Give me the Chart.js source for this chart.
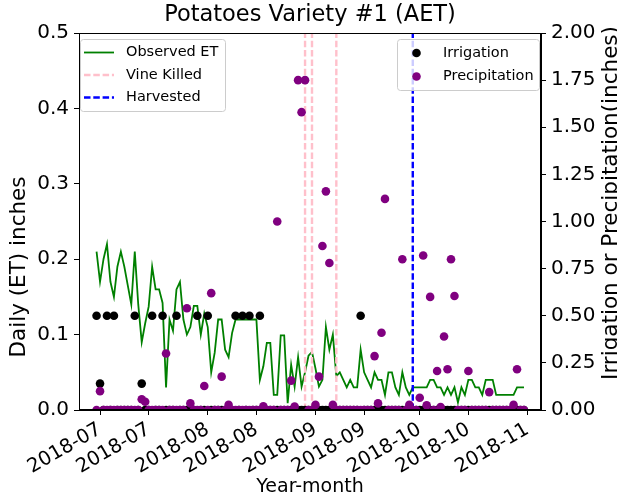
<!DOCTYPE html>
<html><head><meta charset="utf-8">
<script src="https://cdn.jsdelivr.net/npm/chart.js@4.4.0/dist/chart.umd.min.js"></script>
<style>html,body{margin:0;padding:0;background:#fff;} #wrap{width:617px;height:498px;position:relative;}</style>
</head><body><div id="wrap"><canvas id="c" width="617" height="498"></canvas></div>
<script>
// Days are counted from 2018-07-01 (day 0); the series start on 2018-06-30.
const firstDay = -1;
const etValues = [
  0.21, 0.17, 0.20, 0.22, 0.17, 0.15, 0.19, 0.21, 0.19, 0.165,
  0.14, 0.21, 0.14, 0.09, 0.115, 0.137, 0.19, 0.16, 0.16, 0.142,
  0.03, 0.12, 0.105, 0.16, 0.17, 0.12, 0.10, 0.11, 0.138, 0.138,
  0.10, 0.128, 0.11, 0.05, 0.076, 0.12, 0.12, 0.08, 0.07, 0.102,
  0.12, 0.12, 0.12, 0.12, 0.12, 0.12, 0.12, 0.04, 0.058, 0.089,
  0.089, 0.02, 0.02, 0.099, 0.099, 0.009, 0.06, 0.031, 0.07, 0.031,
  0.05, 0.072, 0.077, 0.055, 0.031, 0.04, 0.11, 0.08, 0.10, 0.045,
  0.05, 0.04, 0.03, 0.04, 0.03, 0.03, 0.08, 0.05, 0.04, 0.03,
  0.05, 0.04, 0.04, 0.02, 0.05, 0.05, 0.03, 0.02, 0.05, 0.03,
  0.02, 0.03, 0.03, 0.03, 0.03, 0.03, 0.04, 0.04, 0.03, 0.03,
  0.02, 0.03, 0.02, 0.03, 0.01, 0.03, 0.02, 0.04, 0.04, 0.03,
  0.03, 0.02, 0.04, 0.04, 0.04, 0.02, 0.02, 0.02, 0.02, 0.02,
  0.02, 0.03, 0.03, 0.03
];
const irrigationValues = [
  0.5, 0.14, 0, 0.5, 0, 0.5, 0, 0, 0, 0,
  0, 0.5, 0, 0.14, 0, 0, 0.5, 0, 0, 0.5,
  0, 0, 0, 0.5, 0, 0, 0, 0, 0, 0.5,
  0, 0, 0.5, 0, 0, 0, 0, 0, 0, 0,
  0.5, 0, 0.5, 0, 0.5, 0, 0, 0.5, 0, 0,
  0, 0, 0, 0, 0, 0, 0, 0, 0, 0,
  0, 0, 0, 0, 0, 0, 0, 0, 0, 0,
  0, 0, 0, 0, 0, 0, 0.5, 0, 0, 0,
  0, 0, 0, 0, 0, 0, 0, 0, 0, 0,
  0, 0, 0, 0, 0, 0, 0, 0, 0, 0,
  0, 0, 0, 0, 0, 0, 0, 0, 0, 0,
  0, 0, 0, 0, 0, 0, 0, 0, 0, 0,
  0, 0, 0, 0
];
const precipitationValues = [
  0, 0.10, 0, 0, 0, 0, 0, 0, 0, 0,
  0, 0, 0, 0.057, 0.044, 0, 0, 0, 0, 0,
  0.30, 0, 0, 0, 0, 0, 0.54, 0.035, 0, 0,
  0, 0.127, 0, 0.62, 0, 0, 0.177, 0, 0.027, 0,
  0, 0, 0, 0, 0, 0, 0, 0, 0.02, 0,
  0, 0, 1.00, 0, 0, 0, 0.156, 0.018, 1.75, 1.58,
  1.75, 0, 0, 0.027, 0.177, 0.87, 1.16, 0.78, 0.027, 0,
  0, 0, 0, 0, 0, 0, 0, 0, 0, 0,
  0.286, 0.035, 0.41, 1.12, 0, 0, 0, 0, 0.80, 0,
  0.027, 0, 0, 0.065, 0.82, 0.025, 0.60, 0, 0.207, 0.016,
  0.39, 0.216, 0.80, 0.605, 0, 0, 0, 0.207, 0, 0,
  0, 0, 0, 0.095, 0, 0, 0, 0, 0, 0,
  0.027, 0.216, 0, 0
];
const vineKilledDays = [59, 61, 68];
const harvestedDays = [90];
const xTickDays = [0, 14, 31, 45, 62, 76, 92, 106, 123];
const xTickLabels = ['2018-07','2018-07','2018-08','2018-08','2018-09','2018-09','2018-10','2018-10','2018-11'];
const leftTicks = [0, 0.1, 0.2, 0.3, 0.4, 0.5];
const rightTicks = [0, 0.25, 0.5, 0.75, 1.0, 1.25, 1.5, 1.75, 2.0];

const days = etValues.map((_, i) => firstDay + i);
const FONT = 'DejaVu Sans';
const toPts = vals => vals.map((v, i) => ({x: days[i], y: v}));

const vlineSet = (d, color, idx) => ({
  type: 'line', data: [{x: d, y: 0}, {x: d, y: 0.5}], yAxisID: 'y',
  borderColor: color, borderWidth: 2.4, borderDash: [6.5, 2.8], pointRadius: 0, order: idx, clip: 0
});

const datasets = [
  {type: 'scatter', label: 'Precipitation', data: toPts(precipitationValues), yAxisID: 'y2',
   backgroundColor: '#800080', borderWidth: 0, pointRadius: 4.3, pointHoverRadius: 4.3, order: 0, clip: 0},
  {type: 'scatter', label: 'Irrigation', data: toPts(irrigationValues), yAxisID: 'y2',
   backgroundColor: '#000000', borderWidth: 0, pointRadius: 4.3, pointHoverRadius: 4.3, order: 1, clip: 0},
  ...harvestedDays.map(d => vlineSet(d, '#0000ff', 2)),
  ...vineKilledDays.map(d => vlineSet(d, '#ffc0cb', 3)),
  {type: 'line', label: 'Observed ET', data: toPts(etValues), yAxisID: 'y',
   borderColor: '#008000', borderWidth: 1.8, pointRadius: 0, tension: 0, order: 5, clip: 0}
];

const axisCommon = {
  grid: {drawOnChartArea: false, drawTicks: true, tickLength: 5, color: '#000', lineWidth: 1},
  border: {display: true, color: '#000', width: 1}
};

const decor = {
  id: 'decor',
  afterDraw(chart) {
    const ctx = chart.ctx, a = chart.chartArea;
    ctx.save();
    // axes box
    ctx.strokeStyle = '#000'; ctx.lineWidth = 1;
    ctx.strokeRect(Math.round(a.left) + 0.5, Math.round(a.top) + 0.5, Math.round(a.right - a.left) - 1, Math.round(a.bottom - a.top) - 1);
    // title
    ctx.fillStyle = '#000';
    ctx.font = '22.5px "' + FONT + '"';
    ctx.textAlign = 'center'; ctx.textBaseline = 'middle';
    ctx.fillText('Potatoes Variety #1 (AET)', (a.left + a.right) / 2, 15);
    // left axis label
    ctx.save();
    ctx.translate(19, 267);
    ctx.rotate(-Math.PI / 2);
    ctx.font = '21.5px "' + FONT + '"';
    ctx.fillText('Daily (ET) inches', 0, 0);
    ctx.restore();
    // right axis label
    ctx.save();
    ctx.translate(611, 203);
    ctx.rotate(-Math.PI / 2);
    ctx.font = '21.5px "' + FONT + '"';
    ctx.fillText('Irrigation or Precipitation(inches)', 0, 0);
    ctx.restore();
    // legends
    const box = (x, y, w, h) => {
      ctx.beginPath();
      ctx.roundRect(x, y, w, h, 3);
      ctx.fillStyle = 'rgba(255,255,255,0.8)'; ctx.fill();
      ctx.strokeStyle = '#cccccc'; ctx.lineWidth = 1; ctx.stroke();
    };
    ctx.font = '14.5px "' + FONT + '"';
    ctx.textAlign = 'left'; ctx.textBaseline = 'middle';
    box(80.5, 39.5, 145, 72);
    const lineItems = [
      ['Observed ET', '#008000', [], 1.8, 52.5],
      ['Vine Killed', '#ffc0cb', [6.5, 2.8], 2.4, 75],
      ['Harvested', '#0000ff', [6.5, 2.8], 2.4, 97.5]
    ];
    lineItems.forEach(([t, c, dash, w, y]) => {
      ctx.beginPath(); ctx.setLineDash(dash); ctx.strokeStyle = c; ctx.lineWidth = w;
      ctx.moveTo(84, y); ctx.lineTo(114, y); ctx.stroke(); ctx.setLineDash([]);
      ctx.fillStyle = '#000'; ctx.fillText(t, 126, y);
    });
    box(397.5, 39.5, 142, 51);
    [['Irrigation', '#000000', 53], ['Precipitation', '#800080', 76.5]].forEach(([t, c, y]) => {
      ctx.beginPath(); ctx.arc(416.5, y, 4.3, 0, Math.PI * 2); ctx.fillStyle = c; ctx.fill();
      ctx.fillStyle = '#000'; ctx.fillText(t, 443, y);
    });
    ctx.restore();
  }
};

new Chart(document.getElementById('c'), {
  type: 'line',
  data: {datasets},
  options: {
    responsive: false, animation: false, devicePixelRatio: 1,
    layout: {padding: {top: 33, left: 0, right: 0, bottom: 0}},
    plugins: {legend: {display: false}, tooltip: {enabled: false}, title: {display: false}},
    scales: {
      x: {type: 'linear', min: -6.05, max: 126.9, ...axisCommon,
        afterBuildTicks: s => { s.ticks = xTickDays.map(v => ({value: v})); },
        afterFit: s => { s.height = 88; },
        ticks: {autoSkip: false, minRotation: 30, maxRotation: 30, padding: 3, color: '#000',
          font: {family: FONT, size: 19.5},
          callback: v => { const i = xTickDays.indexOf(v); return i >= 0 ? xTickLabels[i] : ''; }},
        title: {display: true, text: 'Year-month', color: '#000', font: {family: FONT, size: 19}, padding: {top: 0, bottom: 0}}
      },
      y: {type: 'linear', position: 'left', min: 0, max: 0.5, ...axisCommon,
        afterBuildTicks: s => { s.ticks = leftTicks.map(v => ({value: v})); },
        afterFit: s => { s.width = 79; },
        ticks: {padding: 5, color: '#000', font: {family: FONT, size: 20}, callback: v => v.toFixed(1)}
      },
      y2: {type: 'linear', position: 'right', min: 0, max: 2, ...axisCommon,
        afterBuildTicks: s => { s.ticks = rightTicks.map(v => ({value: v})); },
        afterFit: s => { s.width = 76; },
        ticks: {padding: 5, color: '#000', font: {family: FONT, size: 20}, callback: v => v.toFixed(2)}
      }
    }
  },
  plugins: [decor]
});
</script></body></html>
